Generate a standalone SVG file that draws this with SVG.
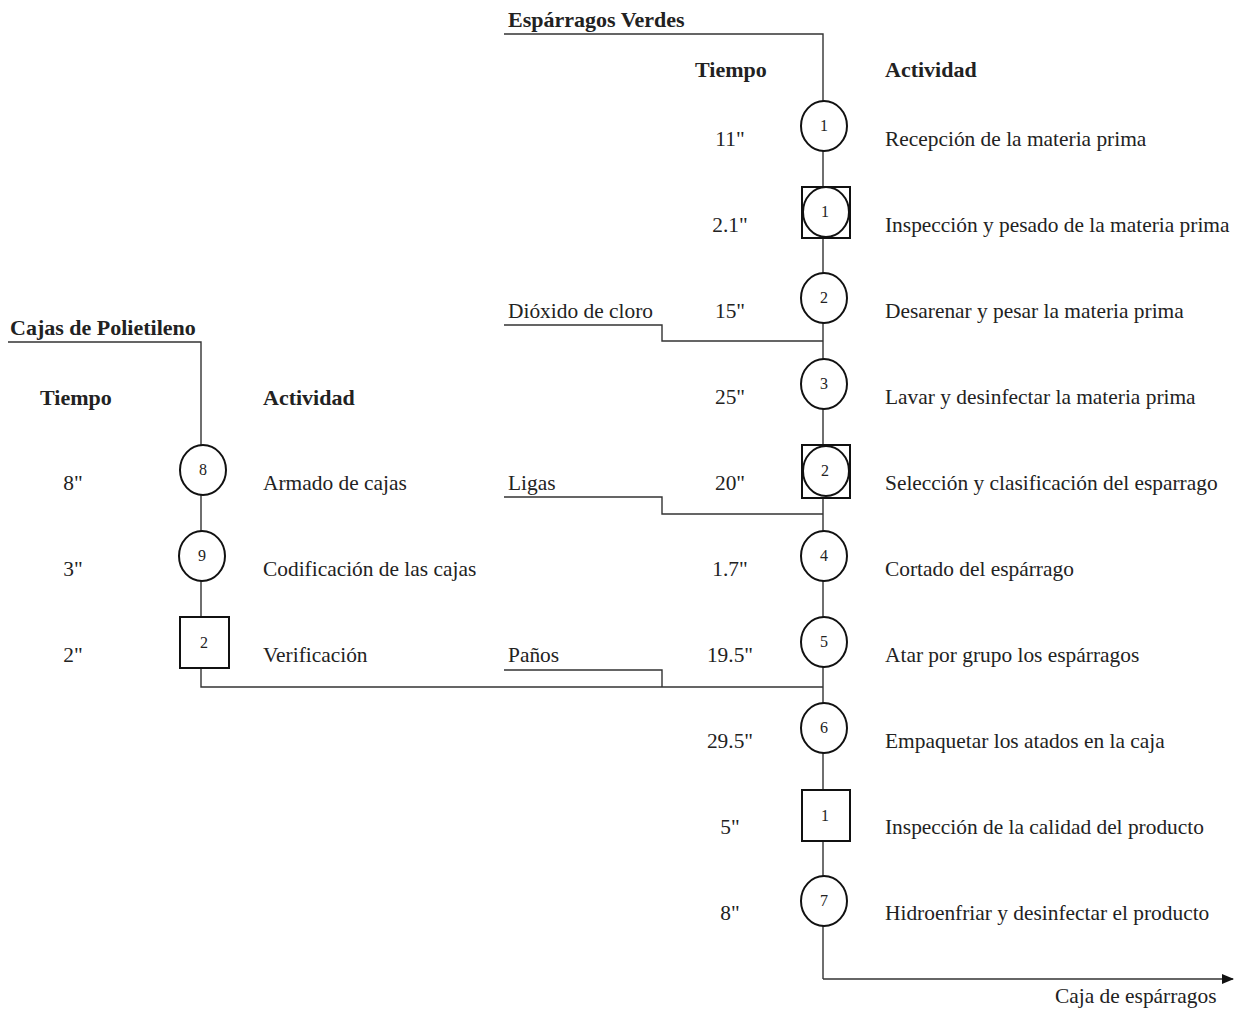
<svg xmlns="http://www.w3.org/2000/svg" width="1235" height="1012" viewBox="0 0 1235 1012">
<style>
text{font-family:"Liberation Serif","Times New Roman",serif;fill:#222}
.h{font-weight:bold;font-size:22px}
.t{font-size:21.4px}
.tm{font-size:21.4px;text-anchor:middle}
.n{font-size:16px;text-anchor:middle}
.ln{fill:none;stroke:#333;stroke-width:1.4}
.sh{fill:#fff;stroke:#111;stroke-width:2}
</style>
<defs>
<marker id="arr" markerWidth="12" markerHeight="10" refX="11" refY="5" orient="auto" markerUnits="userSpaceOnUse">
<path d="M0,0 L12,5 L0,10 Z" fill="#111"/>
</marker>
</defs>
<rect width="1235" height="1012" fill="#fff"/>
<g id="connectors">
<polyline class="ln" points="504,34 823,34 823,979"/>
<line class="ln" x1="823" y1="979" x2="1233" y2="979" marker-end="url(#arr)"/>
<polyline class="ln" points="504,325 662,325 662,341 823,341"/>
<polyline class="ln" points="504,497 662,497 662,514 823,514"/>
<polyline class="ln" points="504,670 662,670 662,687"/>
<polyline class="ln" points="8,342 201,342 201,687 823,687"/>
</g>
<g id="headers">
<text class="h" x="508" y="27">Espárragos Verdes</text>
<text class="h" x="695" y="77">Tiempo</text>
<text class="h" x="885" y="77">Actividad</text>
<text class="h" x="10" y="335">Cajas de Polietileno</text>
<text class="h" x="40" y="405">Tiempo</text>
<text class="h" x="263" y="405">Actividad</text>
<text class="t" x="508" y="318">Dióxido de cloro</text>
<text class="t" x="508" y="490">Ligas</text>
<text class="t" x="508" y="662">Paños</text>
<text class="t" x="1055" y="1003">Caja de espárragos</text>
</g>
<g id="op1"><ellipse class="sh" cx="824" cy="126" rx="23" ry="25"/><text class="n" x="824" y="131">1</text><text class="tm" x="730" y="146">11"</text><text class="t" x="885" y="146">Recepción de la materia prima</text></g>
<g id="oi1"><rect class="sh" x="802" y="187" width="48" height="51"/><ellipse class="sh" cx="826" cy="212" rx="23" ry="25"/><text class="n" x="825" y="217">1</text><text class="tm" x="730" y="232">2.1"</text><text class="t" x="885" y="232">Inspección y pesado de la materia prima</text></g>
<g id="op2"><ellipse class="sh" cx="824" cy="298" rx="23" ry="25"/><text class="n" x="824" y="303">2</text><text class="tm" x="730" y="318">15"</text><text class="t" x="885" y="318">Desarenar y pesar la materia prima</text></g>
<g id="op3"><ellipse class="sh" cx="824" cy="384" rx="23" ry="25"/><text class="n" x="824" y="389">3</text><text class="tm" x="730" y="404">25"</text><text class="t" x="885" y="404">Lavar y desinfectar la materia prima</text></g>
<g id="oi2"><rect class="sh" x="802" y="445" width="48" height="53"/><ellipse class="sh" cx="826" cy="471" rx="23" ry="25"/><text class="n" x="825" y="476">2</text><text class="tm" x="730" y="490">20"</text><text class="t" x="885" y="490">Selección y clasificación del esparrago</text></g>
<g id="op4"><ellipse class="sh" cx="824" cy="556" rx="23" ry="25"/><text class="n" x="824" y="561">4</text><text class="tm" x="730" y="576">1.7"</text><text class="t" x="885" y="576">Cortado del espárrago</text></g>
<g id="op5"><ellipse class="sh" cx="824" cy="642" rx="23" ry="25"/><text class="n" x="824" y="647">5</text><text class="tm" x="730" y="662">19.5"</text><text class="t" x="885" y="662">Atar por grupo los espárragos</text></g>
<g id="op6"><ellipse class="sh" cx="824" cy="728" rx="23" ry="25"/><text class="n" x="824" y="733">6</text><text class="tm" x="730" y="748">29.5"</text><text class="t" x="885" y="748">Empaquetar los atados en la caja</text></g>
<g id="in1"><rect class="sh" x="802" y="790" width="48" height="51"/><text class="n" x="825" y="821">1</text><text class="tm" x="730" y="834">5"</text><text class="t" x="885" y="834">Inspección de la calidad del producto</text></g>
<g id="op7"><ellipse class="sh" cx="824" cy="901" rx="23" ry="25"/><text class="n" x="824" y="906">7</text><text class="tm" x="730" y="920">8"</text><text class="t" x="885" y="920">Hidroenfriar y desinfectar el producto</text></g>
<g id="op8"><ellipse class="sh" cx="203" cy="470" rx="23" ry="25"/><text class="n" x="203" y="475">8</text><text class="tm" x="73" y="490">8"</text><text class="t" x="263" y="490">Armado de cajas</text></g>
<g id="op9"><ellipse class="sh" cx="202" cy="556" rx="23" ry="25"/><text class="n" x="202" y="561">9</text><text class="tm" x="73" y="576">3"</text><text class="t" x="263" y="576">Codificación de las cajas</text></g>
<g id="in2"><rect class="sh" x="180" y="617" width="49" height="51"/><text class="n" x="204" y="648">2</text><text class="tm" x="73" y="662">2"</text><text class="t" x="263" y="662">Verificación</text></g>
</svg>
